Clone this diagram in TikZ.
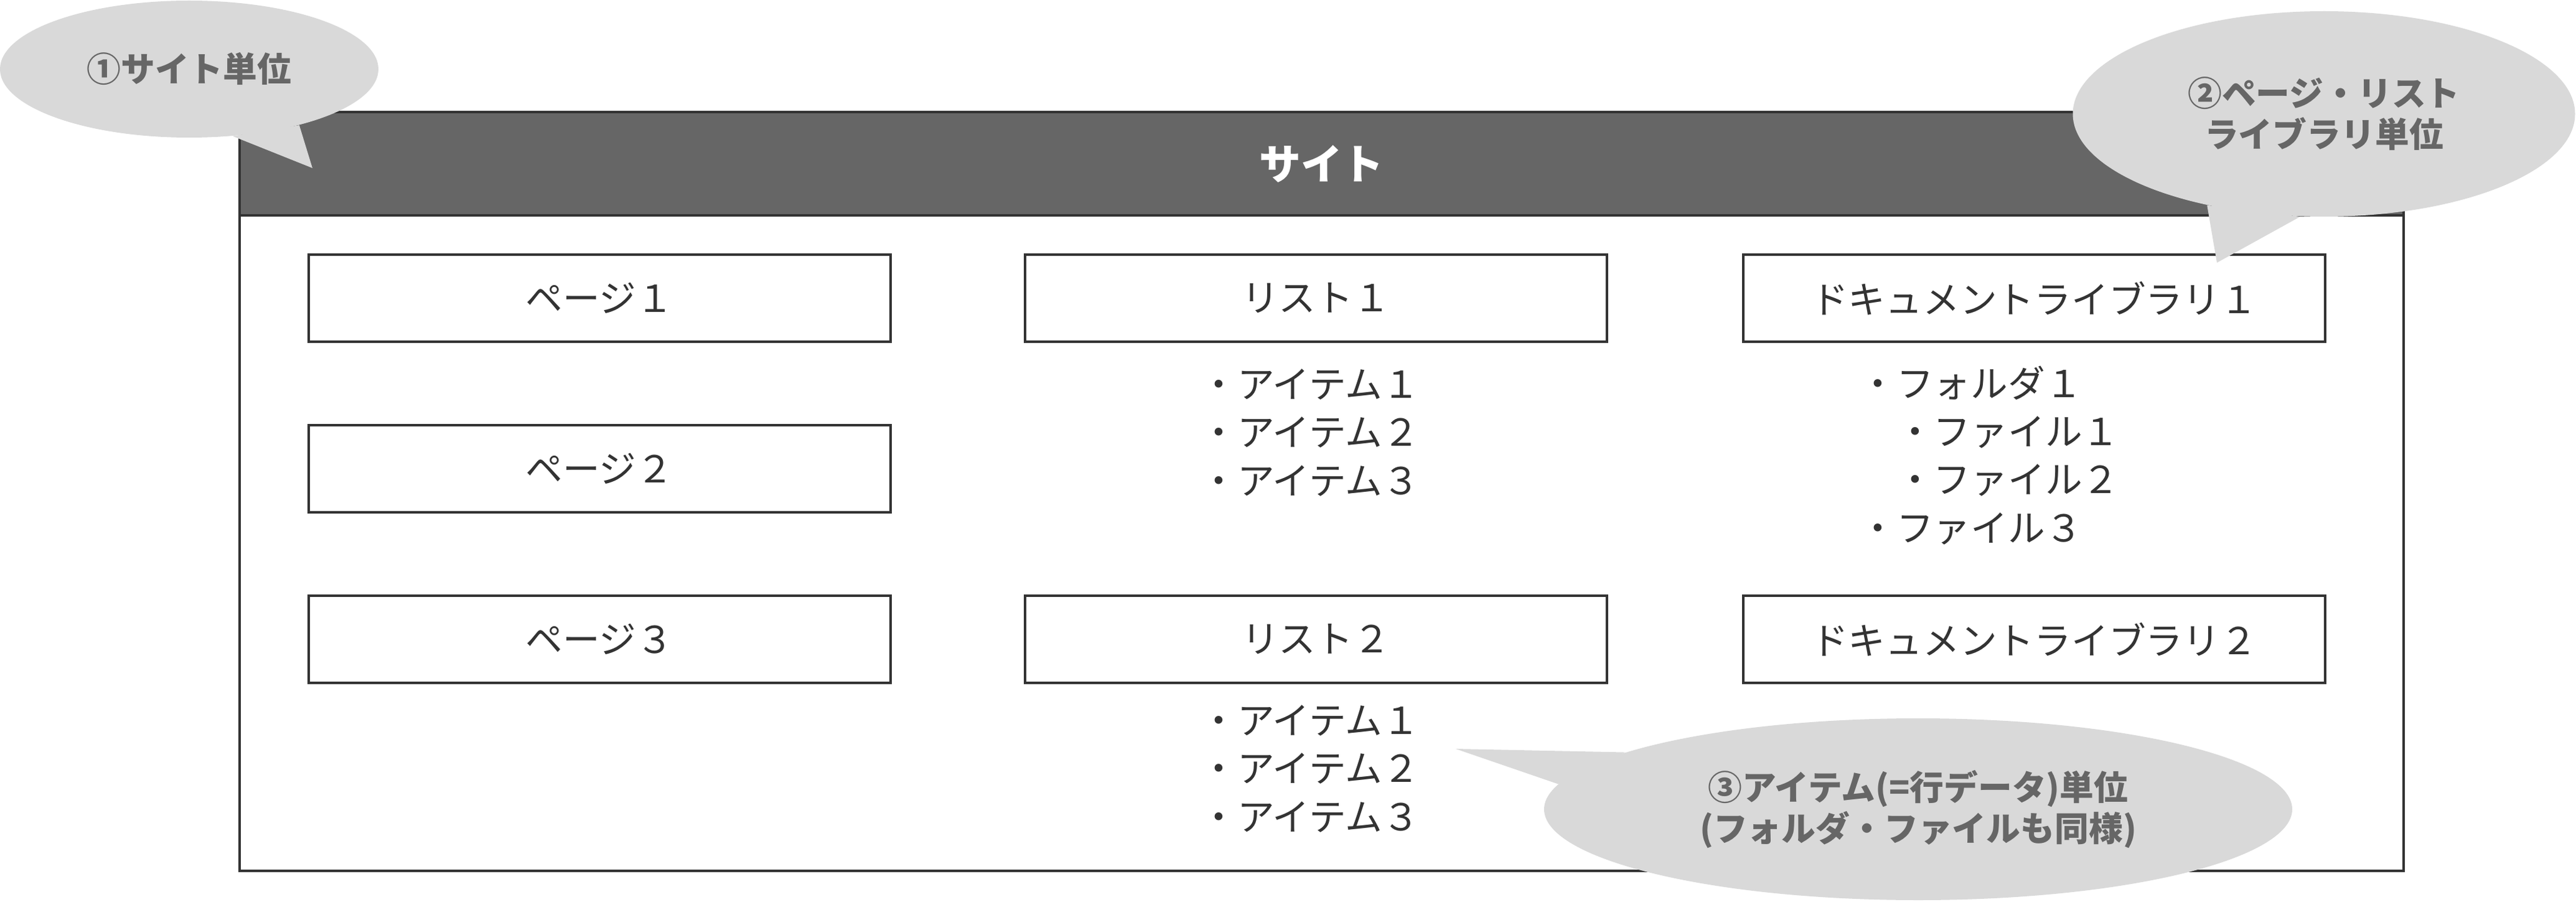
\documentclass[tikz,border=0pt]{standalone}
\usepackage{fontspec}
\setmainfont{Noto Sans CJK JP}
\usepackage{tikz}
\usetikzlibrary{shapes.geometric, positioning}
\definecolor{borde}{HTML}{333333}
\definecolor{cabecera}{HTML}{666666}
\definecolor{gris}{HTML}{D9D9D9}
\tikzstyle{marco} = [draw=borde, line width=1.3pt]
\tikzstyle{cabeza} = [draw=borde, fill=cabecera, line width=1.3pt, text=white, font=\fontsize{19}{23}\selectfont\bfseries, minimum width=34.77cm, minimum height=1.66cm, outer sep=0pt]
\tikzstyle{componente} = [draw=borde, line width=1.3pt, text=borde, font=\fontsize{17}{22}\selectfont, minimum width=9.35cm, minimum height=1.4cm, outer sep=0pt]
\tikzstyle{contenido} = [text=borde, font=\fontsize{17}{22}\selectfont, align=left, inner sep=0pt]
\tikzstyle{globo} = [ellipse, fill=gris, text=cabecera, font=\fontsize{15.6}{18.7}\selectfont\bfseries, align=center, inner sep=0pt]

\begin{document}
\begin{tikzpicture}
	\useasboundingbox[fill=white] (0,0) rectangle (41.39,14.48);
	\node[cabeza] (sitio) at (21.235,11.85) {サイト};
	\coordinate (fondo) at (38.62,0.49);
	\draw[marco] (sitio.south west) rectangle (fondo);
	\node[componente] (p1) at (9.635,9.69) {ページ１};
	\node[componente, below=1.34cm of p1] (p2) {ページ２};
	\node[componente, below=1.34cm of p2] (p3) {ページ３};
	\node[componente, right=2.16cm of p1] (l1) {リスト１};
	\node[componente, right=2.16cm of p3] (l2) {リスト２};
	\node[componente, right=2.19cm of l1] (d1) {ドキュメントライブラリ１};
	\node[componente, right=2.19cm of l2] (d2) {ドキュメントライブラリ２};
	\node[contenido, below=0.43cm of l1, xshift=-0.1cm] (i1) {・アイテム１\\・アイテム２\\・アイテム３};
	\node[contenido, below=0.35cm of l2, xshift=-0.1cm] (i2) {・アイテム１\\・アイテム２\\・アイテム３};
	\node[contenido, below=0.38cm of d1, xshift=-0.72cm] (f1) {・フォルダ１\\　・ファイル１\\　・ファイル２\\・ファイル３};
	\node[globo, minimum width=6.08cm, minimum height=2.2cm] (g1) at (3.04,13.37) {①サイト単位};
	\coordinate (t1) at (5.02,11.78);
	\fill[gris] (g1.303) -- (t1) -- (g1.333) -- cycle;
	\node[globo, minimum width=8.07cm, minimum height=3.3cm] (g2) at (37.34,12.65) {②ページ・リスト\\ライブラリ単位};
	\coordinate (t2) at (35.62,10.26);
	\fill[gris] (g2.218) -- (t2) -- (g2.257) -- cycle;
	\node[globo, minimum width=12.02cm, minimum height=2.92cm] (g3) at (30.82,1.48) {③アイテム(=行データ)単位\\(フォルダ・ファイルも同様)};
	\coordinate (t3) at (23.39,2.45);
	\fill[gris] (g3.169) -- (t3) -- (g3.176) -- cycle;
\end{tikzpicture}
\end{document}
